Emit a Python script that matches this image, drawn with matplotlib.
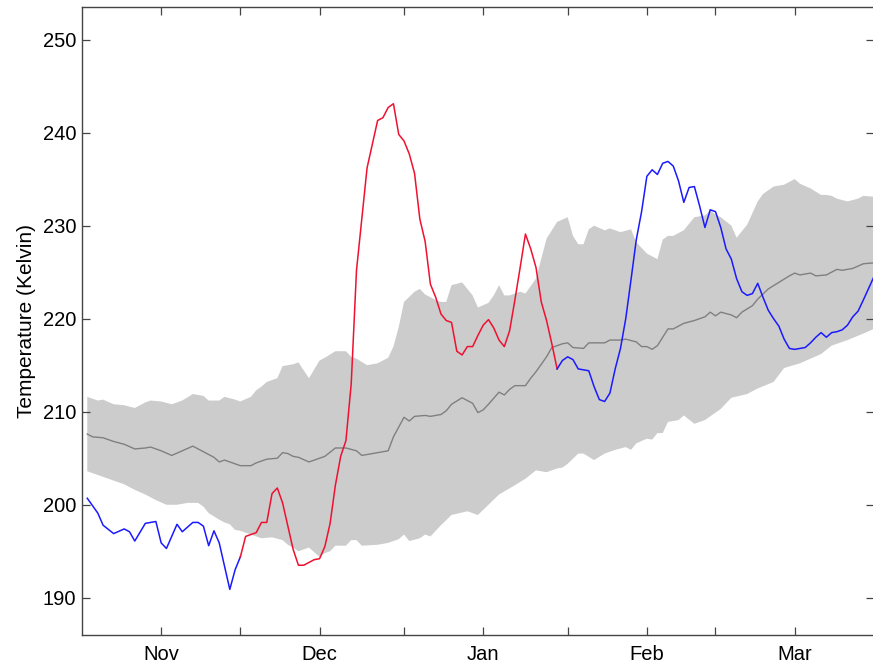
import numpy as np
import matplotlib.pyplot as plt

plt.rcParams['font.family'] = ['Liberation Sans', 'DejaVu Sans']

# days counted from 1 Nov
temp_days = [-14, -12, -11, -9, -7, -6, -5, -3, -1, 0, 1, 3, 4, 6, 7, 8, 9, 10, 11, 13, 14,
             15, 16, 18, 19, 20, 21, 22, 23, 25, 26, 27, 28, 29, 30, 31, 32, 33, 34, 35, 36,
             37, 39, 41, 42, 43, 44, 45, 46, 47, 48, 49, 50, 51, 52, 53, 54, 55, 56, 57, 58,
             59, 60, 61, 62, 63, 64, 65, 66, 67, 68, 69, 70, 71, 72, 73, 74, 75,
             76, 77, 78, 79, 80, 81, 82, 83, 84, 85, 86, 87, 88, 89, 90, 91, 92, 93, 94, 95,
             96, 97, 98, 99, 100, 101, 102, 103, 104, 105, 106, 107, 108, 109, 110, 111, 112,
             113, 114, 115, 116, 117, 118, 119, 120, 122, 123, 124, 125, 126, 127, 128, 129,
             130, 131, 132, 133, 135]
temp_vals = [200.7, 199.1, 197.8, 196.9, 197.4, 197.1, 196.1, 198.0, 198.2, 195.9, 195.3,
             197.9, 197.1, 198.1, 198.1, 197.7, 195.6, 197.2, 195.9, 190.9, 193.0,
             194.4, 196.6, 197.0, 198.1, 198.1, 201.2, 201.8, 200.2, 195.2, 193.5, 193.5,
             193.8, 194.1, 194.2, 195.5, 198.0, 202.1, 205.2, 206.9, 213.0,
             225.2, 236.2, 241.3, 241.6, 242.7, 243.1, 239.8, 239.1, 237.7, 235.6, 230.7,
             228.3, 223.7, 222.3, 220.5, 219.8, 219.6, 216.5, 216.1, 217.0,
             217.0, 218.2, 219.3, 219.9, 219.0, 217.7, 217.0, 218.7, 222.0, 225.5, 229.1,
             227.5, 225.5, 221.8, 219.8, 217.3, 214.6,
             215.5, 215.9, 215.6, 214.6, 214.5, 214.4, 212.7, 211.3, 211.1, 212.0, 214.6,
             216.8, 220.0, 224.2, 228.5, 231.5, 235.3, 236.0, 235.5, 236.7,
             236.9, 236.4, 234.8, 232.5, 234.1, 234.2, 232.1, 229.8, 231.7, 231.5, 229.8,
             227.5, 226.4, 224.3, 222.9, 222.5, 222.7,
             223.8, 222.3, 220.9, 220.0, 219.2, 217.8, 216.8, 216.7, 216.9, 217.4, 218.0,
             218.5, 218.0, 218.5, 218.6, 218.8,
             219.3, 220.2, 220.8, 222.0, 224.5]
warm_start, warm_end = 15, 75

mean_days = [-14, -13, -11, -9, -7, -5, -3, -2, 0, 2, 4, 6, 8, 10, 11, 12, 14, 15, 17, 18,
             20, 22, 23, 24, 25, 26, 28, 29, 31, 33, 35, 37, 38, 40, 43, 44, 46, 47, 48, 50,
             51, 53, 54, 55, 57, 59, 60, 61, 62, 64, 65, 66, 67, 69, 70, 71, 73, 74, 76, 77,
             78, 80, 81, 84, 85, 87, 88, 90, 91, 92, 93, 94, 96, 97, 99, 101, 103, 104, 105,
             106, 108, 109, 110, 112, 113, 115, 117, 119, 120, 121, 123, 124, 126, 128, 129,
             131, 133, 135]
mean_vals = [207.6, 207.3, 207.2, 206.8, 206.5, 206.0, 206.1, 206.2, 205.8, 205.3, 205.8,
             206.3, 205.7, 205.1, 204.6, 204.8, 204.4, 204.2, 204.2, 204.5,
             204.9, 205.0, 205.6, 205.5, 205.2, 205.1, 204.6, 204.8, 205.2, 206.1, 206.1,
             205.8, 205.3, 205.5, 205.8, 207.3, 209.4, 209.0, 209.5, 209.6,
             209.5, 209.7, 210.1, 210.8, 211.5, 210.9, 209.9, 210.2, 210.8, 212.1, 211.8,
             212.4, 212.8, 212.8, 213.6, 214.3, 215.9, 216.9, 217.3, 217.4,
             216.9, 216.8, 217.4, 217.4, 217.7, 217.7, 217.8, 217.5, 217.0, 217.0, 216.7,
             217.1, 218.9, 218.9, 219.5, 219.8, 220.2, 220.7, 220.3,
             220.7, 220.4, 220.1, 220.7, 221.4, 222.1, 223.2, 223.9, 224.6, 224.9, 224.7,
             224.9, 224.6, 224.7, 225.3, 225.2,
             225.4, 225.9, 226.0]

upper_days = [-14, -12, -11, -9, -7, -5, -3, -2, 0, 2, 4, 6, 8, 9, 11, 12, 14, 15, 17, 18,
              19, 20, 22, 23, 25, 26, 28, 30, 31, 33, 35, 36, 37, 39, 41, 42, 43, 44, 45, 46,
              48, 49, 50, 52, 53, 54, 55, 57, 59, 60, 62, 63, 64, 65, 66, 68, 69, 71, 73, 75,
              77, 78, 79, 80, 81, 82, 84, 85, 87, 89, 90, 92, 94, 95, 96, 97, 99, 101, 102,
              103, 104, 105, 106, 108, 109, 111, 113, 114, 116, 118, 120, 121, 123, 125, 126,
              127, 128, 130, 132, 133, 135]
upper_vals = [211.6, 211.2, 211.3, 210.8, 210.7, 210.4, 211.0, 211.2, 211.1, 210.8, 211.2,
              211.9, 211.7, 211.2, 211.2, 211.6, 211.3, 211.1, 211.6, 212.3,
              212.7, 213.2, 213.6, 214.9, 215.1, 215.3, 213.6, 215.5, 215.8, 216.5, 216.5,
              215.9, 215.7, 215.0, 215.2, 215.5, 215.8, 217.0, 219.1, 221.8,
              222.9, 223.2, 222.6, 222.0, 221.8, 221.8, 223.6, 223.9, 222.5, 221.2, 221.7,
              222.5, 223.6, 222.5, 222.5, 222.9, 222.7, 224.3, 228.6, 230.4,
              230.9, 228.9, 228.0, 228.0, 229.6, 230.0, 229.5, 229.7, 229.3, 229.6, 228.2,
              227.0, 226.4, 228.5, 228.9, 228.9, 229.5, 230.9, 231.0,
              231.1, 231.6, 231.2, 230.9, 230.0, 228.7, 230.1, 232.6, 233.4, 234.2, 234.4,
              235.0, 234.5, 234.0, 233.3, 233.3,
              233.2, 232.9, 232.6, 232.9, 233.2, 233.1]

lower_days = [-14, -12, -11, -9, -7, -5, -3, -1, 1, 3, 5, 7, 8, 9, 11, 12, 13, 14, 15, 17,
              19, 21, 23, 24, 25, 26, 28, 30, 31, 32, 33, 35, 36, 37, 38, 41, 43, 45, 46, 47,
              49, 50, 51, 53, 55, 58, 60, 62, 64, 67, 69, 71, 73, 75, 76, 77, 79, 80, 82, 84,
              86, 88, 89, 90, 92, 93, 94, 95, 96, 98, 99, 101, 103, 104, 106, 108, 111, 113,
              116, 118, 121, 123, 125, 127, 130, 133, 135]
lower_vals = [203.6, 203.2, 203.0, 202.6, 202.2, 201.6, 201.1, 200.5, 200.0, 200.0, 200.2,
              200.2, 199.8, 199.1, 198.4, 198.1, 197.9, 197.3, 197.2, 196.8,
              196.4, 196.5, 196.2, 195.7, 195.4, 195.0, 195.4, 194.4, 194.8, 195.0, 195.6,
              195.6, 196.2, 196.2, 195.6, 195.7, 195.9, 196.3, 196.8, 196.1,
              196.4, 196.8, 196.6, 197.8, 198.9, 199.3, 198.9, 200.0, 201.1, 202.1, 202.8,
              203.7, 203.5, 203.9, 204.0, 204.4, 205.5, 205.5, 204.8, 205.5,
              205.9, 206.2, 205.9, 206.6, 207.1, 207.0, 207.7, 207.7, 208.9, 209.1, 209.6,
              208.7, 209.1, 209.5, 210.3, 211.5, 211.9, 212.5,
              213.2, 214.7, 215.2, 215.7, 216.2, 217.1, 217.7, 218.4, 218.9]

tick_days = [0, 15, 30, 46, 61, 77, 92, 105, 120]
tick_labels = ['Nov', '', 'Dec', '', 'Jan', '', 'Feb', '', 'Mar']
y_ticks = [190, 200, 210, 220, 230, 240, 250]

fig = plt.figure(figsize=(8.73, 6.65), dpi=100)
ax = fig.add_axes([0.0939, 0.0451, 0.9071, 0.9444])

# spread of the climatology as a closed polygon
band_x = np.concatenate([upper_days, lower_days[::-1]])
band_y = np.concatenate([upper_vals, lower_vals[::-1]])
ax.fill(band_x, band_y, color='#cccccc', lw=0, zorder=1)

ax.plot(mean_days, mean_vals, color='#808080', lw=1.0, zorder=2)

td = np.array(temp_days)
tv = np.array(temp_vals)
before = td <= warm_start
warm = (td >= warm_start) & (td <= warm_end)
after = td >= warm_end
ax.plot(td[before], tv[before], color='#1a1aff', lw=1.1, zorder=3)
ax.plot(td[warm], tv[warm], color='#f01030', lw=1.1, zorder=3)
ax.plot(td[after], tv[after], color='#1a1aff', lw=1.1, zorder=3)

ax.set_xlim(-15, 135)
ax.set_ylim(186, 253.5)
ax.set_xticks(tick_days)
ax.set_xticklabels(tick_labels)
ax.set_yticks(y_ticks)
ax.set_ylabel('Temperature (Kelvin)', fontsize=15, labelpad=5)

ax.tick_params(direction='in', length=5.5, width=0.9, color='#444444',
               top=True, right=True, labelsize=14.5)
ax.tick_params(axis='x', pad=7)
ax.tick_params(axis='y', pad=4)
for s in ax.spines.values():
    s.set_color('#444444')
    s.set_linewidth(1.0)

fig.savefig('out.png', dpi=100)
